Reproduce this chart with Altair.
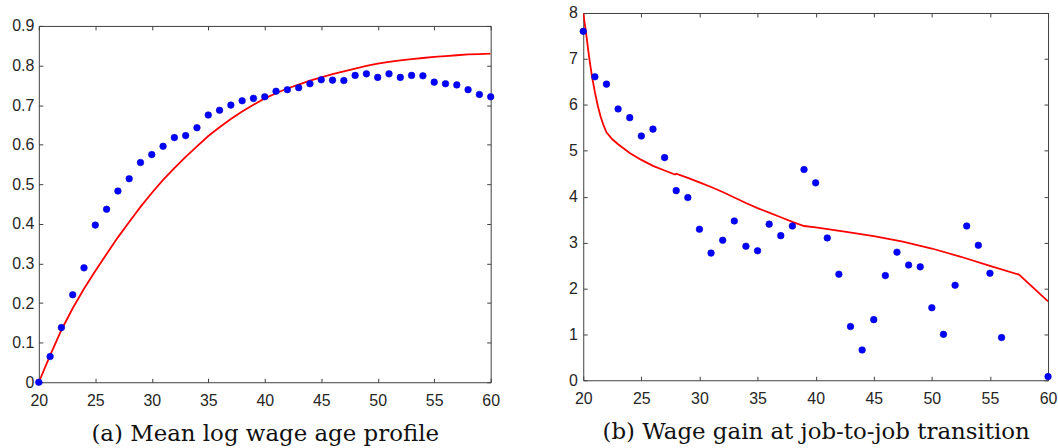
import altair as alt
import pandas as pd

# ---------------- Panel (a): mean log wage age profile ----------------
age_a = list(range(20, 61))
wage_data = [0.000, 0.065, 0.138, 0.221, 0.289, 0.397, 0.437, 0.483, 0.514, 0.555,
             0.575, 0.596, 0.618, 0.623, 0.643, 0.675, 0.687, 0.700, 0.711, 0.717,
             0.721, 0.735, 0.739, 0.744, 0.754, 0.764, 0.763, 0.762, 0.775, 0.779,
             0.770, 0.779, 0.770, 0.775, 0.774, 0.758, 0.754, 0.751, 0.739, 0.727,
             0.721]
wage_model = [0.000, 0.068, 0.132, 0.187, 0.236, 0.281, 0.324, 0.366, 0.405, 0.443,
              0.478, 0.511, 0.541, 0.569, 0.596, 0.622, 0.644, 0.665, 0.684, 0.701,
              0.717, 0.730, 0.742, 0.752, 0.762, 0.770, 0.778, 0.785, 0.792, 0.799,
              0.805, 0.809, 0.813, 0.816, 0.819, 0.822, 0.824, 0.826, 0.828, 0.829,
              0.830]

# ---------------- Panel (b): wage gain at job-to-job transition ----------------
age_b = [20, 21, 22, 23, 24, 25, 26, 27, 28, 29, 30, 31, 32, 33, 34, 35, 36, 37, 38,
         39, 40, 41, 42, 43, 44, 45, 46, 47, 48, 49, 50, 51, 52, 53, 54, 55, 56, 60]
gain_data = [7.60, 6.61, 6.45, 5.91, 5.72, 5.32, 5.47, 4.85, 4.13, 3.98, 3.29, 2.77,
             3.05, 3.47, 2.92, 2.82, 3.40, 3.15, 3.36, 4.59, 4.30, 3.10, 2.31, 1.17,
             0.66, 1.32, 2.28, 2.79, 2.51, 2.47, 1.58, 1.00, 2.07, 3.36, 2.94, 2.33,
             0.93, 0.08]
age_b_model = [20.0, 20.25, 20.5, 20.75, 21.0, 21.25, 21.5, 21.75, 22.0, 22.5, 23.0,
               24.0, 25.0, 26.0, 27.0, 27.9, 28.0, 29.0, 30.0, 31.0, 32.0, 33.0, 34.0,
               35.0, 36.0, 37.0, 38.0, 39.0, 40.0, 42.5, 45.0, 47.5, 50.0, 52.5, 55.0,
               57.5, 60.0]
gain_model = [8.00, 7.55, 7.05, 6.62, 6.28, 5.98, 5.74, 5.55, 5.40, 5.25, 5.14,
              4.95, 4.80, 4.67, 4.57, 4.48, 4.50, 4.41, 4.31, 4.21, 4.10, 3.98, 3.86,
              3.75, 3.65, 3.55, 3.45, 3.36, 3.33, 3.24, 3.14, 3.02, 2.87, 2.69, 2.49,
              2.30, 1.72]

x_ticks = [20, 25, 30, 35, 40, 45, 50, 55, 60]
y_ticks_a = [0, 0.1, 0.2, 0.3, 0.4, 0.5, 0.6, 0.7, 0.8, 0.9]
y_ticks_b = [0, 1, 2, 3, 4, 5, 6, 7, 8]

caption_a = "(a) Mean log wage age profile"
caption_b = "(b) Wage gain at job-to-job transition"

LABEL_FONT = "Liberation Sans"
LABEL_SIZE = 16
LABEL_COLOR = "#262626"
TICK_COLOR = "#404040"
TICK = 4


def panel(ages, vals, m_ages, m_vals, ydom, yvals, yfmt, w, h, caption, ylabpad):
    xs = alt.Scale(domain=[20, 60], nice=False, zero=False)
    ys = alt.Scale(domain=ydom, nice=False, zero=False)
    pts = pd.DataFrame({"age": ages, "value": vals})
    mdl = pd.DataFrame({"age": m_ages, "value": m_vals})

    bottom = alt.Axis(orient="bottom", values=x_ticks, format="d", offset=-TICK,
                      tickSize=TICK, tickColor=TICK_COLOR, domain=False, grid=False,
                      labelFont=LABEL_FONT, labelFontSize=LABEL_SIZE,
                      labelColor=LABEL_COLOR, labelPadding=10, labelFlush=False,
                      title=caption, titleFont="DejaVu Serif", titleFontSize=23,
                      titleFontWeight="normal", titleColor="#111111",
                      titlePadding=15)
    left = alt.Axis(orient="left", values=yvals, format=yfmt, offset=-TICK,
                    tickSize=TICK, tickColor=TICK_COLOR, domain=False, grid=False,
                    labelFont=LABEL_FONT, labelFontSize=LABEL_SIZE,
                    labelColor=LABEL_COLOR, labelPadding=ylabpad, labelFlush=False,
                    title=None)
    top = alt.Axis(orient="top", values=x_ticks, offset=-TICK, tickSize=TICK,
                   tickColor=TICK_COLOR, domain=False, grid=False, labels=False,
                   title=None)
    right = alt.Axis(orient="right", values=yvals, offset=-TICK, tickSize=TICK,
                     tickColor=TICK_COLOR, domain=False, grid=False, labels=False,
                     title=None)

    line = alt.Chart(mdl).mark_line(color="#ff0000", strokeWidth=1.8, clip=True).encode(
        x=alt.X("age:Q", scale=xs, axis=bottom),
        y=alt.Y("value:Q", scale=ys, axis=left),
    )
    dots = alt.Chart(pts).mark_circle(size=44, color="#0000ff", opacity=1,
                                      stroke="#0000cc", strokeWidth=0.6).encode(
        x=alt.X("age:Q", scale=xs, axis=top),
        y=alt.Y("value:Q", scale=ys, axis=right),
    )
    return alt.layer(line, dots).resolve_axis(x="independent", y="independent").properties(
        width=w, height=h, view=alt.ViewConfig(stroke=TICK_COLOR, strokeWidth=1))


left_panel = panel(age_a, wage_data, age_a, wage_model, [0, 0.9], y_ticks_a, ".1~f",
                   454, 358, caption_a, 5)
right_panel = panel(age_b, gain_data, age_b_model, gain_model, [0, 8], y_ticks_b, "d",
                    467, 369, caption_b, 6)

# invisible spacer that lowers the left panel so both plot bottoms line up
spacer = alt.Chart(pd.DataFrame({"a": [0]})).mark_point(size=0, opacity=0).encode(
    x=alt.X("a:Q", axis=None), y=alt.Y("a:Q", axis=None)
).properties(width=1, height=1, view=alt.ViewConfig(stroke="transparent"))

left_column = alt.vconcat(spacer, left_panel, spacing=2)

chart = alt.hconcat(left_column, right_panel, spacing=67).properties(
    padding={"left": 11, "top": 3, "right": 0, "bottom": 0}
).configure(background="white")

chart.save("out.html", embed_options={"renderer": "svg", "actions": False})
